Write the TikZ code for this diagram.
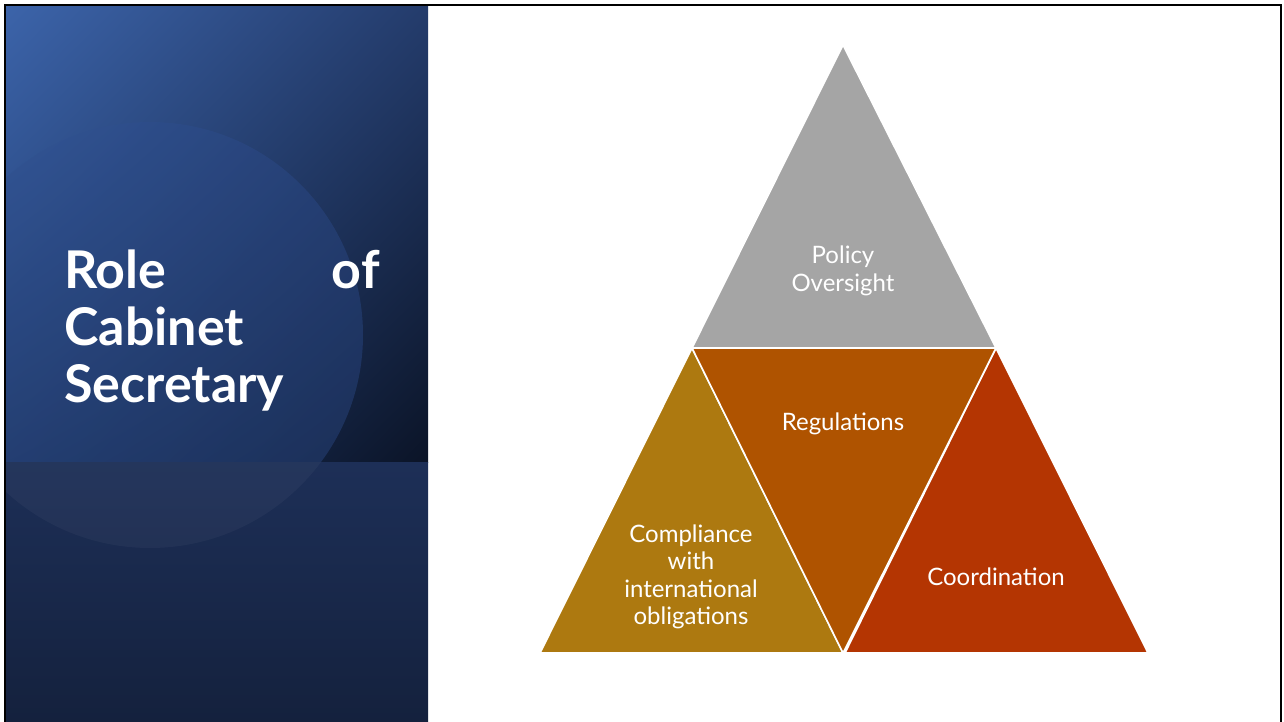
\documentclass[tikz,border=0pt]{standalone}
\usepackage{fontspec}
\setmainfont{Lato}
\usetikzlibrary{shadings}
\definecolor{tgray}{HTML}{A5A5A5}
\definecolor{tmid}{HTML}{AF5300}
\definecolor{tleft}{HTML}{AD7910}
\definecolor{tright}{HTML}{B43502}
\definecolor{ul}{HTML}{3C64AA}
\definecolor{ur}{HTML}{243C6C}
\definecolor{ll}{HTML}{203A6C}
\definecolor{lr}{HTML}{0B1427}
\definecolor{cul}{HTML}{34589A}
\definecolor{cur}{HTML}{27427A}
\definecolor{cll}{HTML}{223C6E}
\definecolor{clr}{HTML}{1C315B}
\definecolor{btop}{HTML}{1D2F57}
\definecolor{bbot}{HTML}{14213D}
\begin{document}
\begin{tikzpicture}[x=1pt,y=-1pt,
  tri/.style={draw=white,line width=1.6pt,line join=miter},
  lbl/.style={text=white,font=\fontsize{24}{27.5}\selectfont,align=center,inner sep=0pt},
  ttl/.style={text=white,font=\fontsize{52}{57}\bfseries\selectfont,inner sep=0pt}]
\useasboundingbox (0,0) rectangle (1284,722);
\fill[white] (0,0) rectangle (1284,722);
% left panel, upper part
\shade[upper left=ul,upper right=ur,lower left=ll,lower right=lr] (5,5) rectangle (428,462);
\begin{scope}
  \clip (5,5) rectangle (428,462);
  \shade[upper left=cul,upper right=cur,lower left=cll,lower right=clr,opacity=0.8] (150,335) circle (213);
\end{scope}
% lower band
\shade[top color=btop,bottom color=bbot] (5,462) rectangle (428,722);
\begin{scope}
  \clip (5,462) rectangle (428,722);
  \fill[white,fill opacity=0.035] (150,335) circle (213);
\end{scope}
% border
\draw[black,line width=2pt] (5,722) -- (5,5) -- (1281,5) -- (1281,722);
% triangles
\coordinate (apex) at (843,45);
\coordinate (ml) at (692,348);
\coordinate (mr) at (996,348);
\coordinate (bm) at (843,653);
\coordinate (bl) at (540,653);
\coordinate (bm2) at (845,653);
\coordinate (br) at (1148,653);
\path[tri,fill=tgray] (apex) -- (mr) -- (ml) -- cycle;
\path[tri,fill=tleft] (ml) -- (bm) -- (bl) -- cycle;
\path[tri,fill=tright] (mr) -- (br) -- (bm2) -- cycle;
\path[tri,fill=tmid] (ml) -- (mr) -- (bm) -- cycle;
% labels
\node[lbl] (policy) at (843,271) {Policy\\Oversight};
\node[lbl] (reg) at (843,424) {Regulations};
\node[lbl] (coord) at (996,577) {Coordination};
\node[lbl] (comp) at (691,577) {Compliance\\with\\international\\obligations};
% title
\node[ttl,anchor=base west] (role) at (64,288) {Role};
\node[ttl,anchor=base east] (of) at (380,288) {of};
\node[ttl,anchor=base west] (cab) at (64,345) {Cabinet};
\node[ttl,anchor=base west] (sec) at (64,402) {Secretary};
\end{tikzpicture}
\end{document}
